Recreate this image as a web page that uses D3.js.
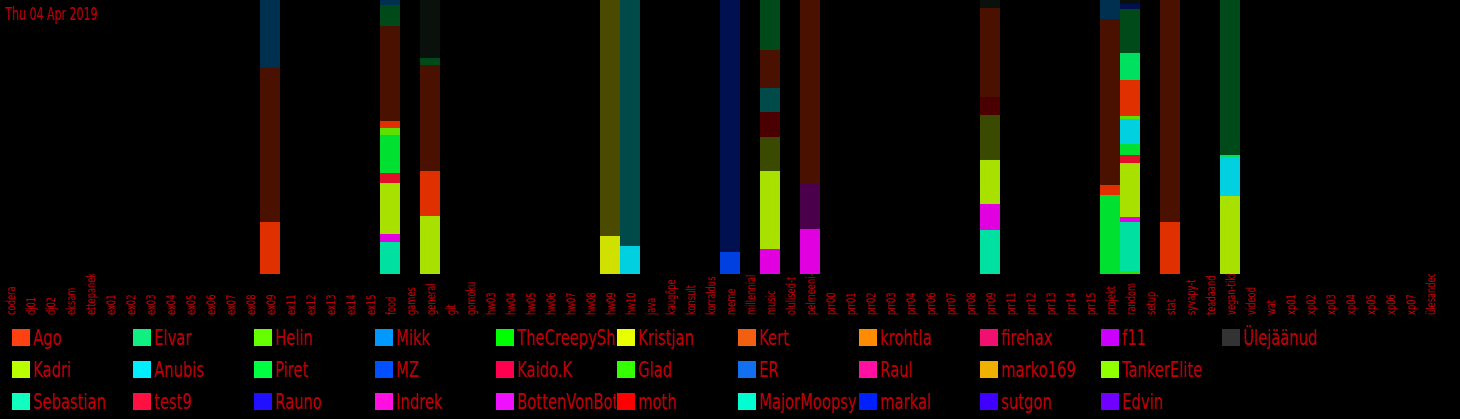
<!DOCTYPE html>
<html><head><meta charset="utf-8">
<script src="https://cdn.jsdelivr.net/npm/d3@7"></script>
<style>
html,body{margin:0;padding:0;background:#000;overflow:hidden;}
svg{display:block;background:#000;}
text{font-family:"Liberation Sans Narrow","DejaVu Sans Condensed","Arial Narrow",sans-serif;}
</style></head><body>
<svg id="chart" width="1460" height="419"></svg>
<script>
// ---------- DATA ----------
const title = "Thu 04 Apr 2019";

const channels = ["codera","dj01","dj02","eksam","ettepanek","ex01","ex02","ex03","ex04","ex05","ex06","ex07","ex08","ex09",
  "ex11","ex12","ex13","ex14","ex15","food","games","general","git","gomoku","hw03","hw04","hw05","hw06","hw07","hw08","hw09","hw10",
  "java","kaugõpe","konsult","korraldus","meme","millennial","music","olulised-t","pelmeeni-","prr00","prr01","prr02","prr03","prr04",
  "prr06","prr07","prr08","prr09","prr11","prr12","prr13","prr14","prr15","projekt","random","setup","stat","syvapy-t","teadaand",
  "vegan-tiki","videod","wat","xp01","xp02","xp03","xp04","xp05","xp06","xp07","ülesandec"];

// channels that have messages (others are zero)
const activeChannels = ["ex09","food","general","hw09","hw10","meme","music","pelmeeni-","prr09","projekt","random","stat","vegan-tiki"];

// stack layers, bottom -> top (bright = today, dim = earlier)
const layerNames = ["Glad","Sebastian","Indrek","Kadri","test9","Piret","Anubis","Kristjan","MZ","Helin","Ago","Elvar",
  "Indrek (varem)","Kadri (varem)","test9 (varem)","Anubis (varem)","Kristjan (varem)","Ago (varem)","Elvar (varem)",
  "Mikk (varem)","MZ (varem)","Ülejäänud (varem)"];
const layerColors = ["#30e000","#00e0a0","#e000e0","#a8e000","#e0102a","#00e030","#00d0e0","#d0e000","#0040e0","#5ce000","#e03000","#00e060",
  "#4a004a","#3a4a00","#4a0000","#004a4a","#4a4a00","#4a1000","#004a1a",
  "#003050","#001050","#0a100c"];

// values per layer, aligned with activeChannels
const vGlad        = [0,0,0,0,0,0,0,0,0,0,3,0,0];
const vSebastian   = [0,32,0,0,0,0,0,0,44,0,49,0,0];
const vIndrek      = [0,8,0,0,0,0,25,45,26,0,5,0,0];
const vKadri       = [0,51,58,0,0,0,78,0,44,0,54,0,78];
const vTest9       = [0,10,0,0,0,0,0,0,0,0,8,0,0];
const vPiret       = [0,38,0,0,0,0,0,0,0,79,11,0,0];
const vAnubis      = [0,0,0,0,28,0,0,0,0,0,25,0,39];
const vKristjan    = [0,0,0,38,0,0,0,0,0,0,0,0,0];
const vMZ          = [0,0,0,0,0,22,0,0,0,0,0,0,0];
const vHelin       = [0,7,0,0,0,0,0,0,0,0,3,0,0];
const vAgo         = [52,7,45,0,0,0,0,0,0,10,36,52,0];
const vElvar       = [0,0,0,0,0,0,0,0,0,0,27,0,2];
const vIndrekOld   = [0,0,0,0,0,0,0,46,0,0,0,0,0];
const vKadriOld    = [0,0,0,0,0,0,34,0,45,0,0,0,0];
const vTest9Old    = [0,0,0,0,0,0,25,0,18,0,0,0,0];
const vAnubisOld   = [0,0,0,0,246,0,24,0,0,0,0,0,0];
const vKristjanOld = [0,0,0,236,0,0,0,0,0,0,0,0,0];
const vAgoOld      = [154,95,106,0,0,0,38,183,89,166,0,222,0];
const vElvarOld    = [0,21,7,0,0,0,50,0,0,0,44,0,155];
const vMikkOld     = [68,5,0,0,0,0,0,0,0,19,0,0,0];
const vMZOld       = [0,0,0,0,0,252,0,0,0,0,5,0,0];
const vRestOld     = [0,0,58,0,0,0,0,0,8,0,4,0,0];
const layerValues = [vGlad,vSebastian,vIndrek,vKadri,vTest9,vPiret,vAnubis,vKristjan,vMZ,vHelin,vAgo,vElvar,
  vIndrekOld,vKadriOld,vTest9Old,vAnubisOld,vKristjanOld,vAgoOld,vElvarOld,vMikkOld,vMZOld,vRestOld];

// legend (column-major, 3 rows)
const legendNames = ["Ago","Kadri","Sebastian","Elvar","Anubis","test9","Helin","Piret","Rauno","Mikk","MZ","Indrek",
  "TheCreepySh","Kaido.K","BottenVonBot","Kristjan","Glad","moth","Kert","ER","MajorMoopsy","krohtla","Raul","markal",
  "firehax","marko169","sutgon","f11","TankerElite","Edvin","Ülejäänud"];
const legendColors = ["#ff4010","#b8ff00","#10ffc0","#10f080","#00eeff","#ff1040","#66ff00","#00ff40","#2010ff","#0099ff","#0050ff","#ff10e0",
  "#00ff00","#ff0050","#ee10ff","#e8ff00","#33ff00","#ff0000","#f06010","#1070f0","#00ffd0","#ff8c00","#ff10a0","#0020ff",
  "#f01070","#f0b000","#4000ff","#cc00ff","#90ff00","#7000ff","#333333"];

// ---------- CHART ----------
const svg = d3.select("#chart");
const textColor = "#c00008";
const plotBottom = 274;

const table = channels.map(c => {
  const row = {channel: c};
  const idx = activeChannels.indexOf(c);
  layerNames.forEach((k, li) => { row[k] = idx >= 0 ? layerValues[li][idx] : 0; });
  return row;
});

const stack = d3.stack().keys(layerNames).offset(d3.stackOffsetExpand);
const series = stack(table);

const x = d3.scaleBand().domain(channels).range([0, 1440]).padding(0);
const y = d3.scaleLinear().domain([0, 1]).range([plotBottom, 0]);
const color = d3.scaleOrdinal().domain(layerNames).range(layerColors);

svg.append("g").selectAll("g").data(series).join("g")
  .attr("fill", d => color(d.key))
  .selectAll("rect")
  .data(d => d.filter(p => p[1] - p[0] > 0))
  .join("rect")
  .attr("x", d => x(d.data.channel))
  .attr("width", x.bandwidth())
  .attr("y", d => y(d[1]))
  .attr("height", d => y(d[0]) - y(d[1]));

// x axis labels (clipped at bar baseline)
svg.append("clipPath").attr("id", "axisClip")
  .append("rect").attr("x", 0).attr("y", plotBottom).attr("width", 1460).attr("height", 60);
const axisG = svg.append("g").attr("clip-path", "url(#axisClip)")
  .append("g").attr("transform", "translate(0,315)")
  .call(d3.axisBottom(x).tickSize(0).tickPadding(0));
axisG.select(".domain").remove();
axisG.selectAll("text")
  .attr("transform", "rotate(-90) scale(0.71,1)")
  .attr("x", 0).attr("y", 0).attr("dy", "0.38em")
  .attr("text-anchor", "start")
  .attr("fill", textColor)
  .style("font-size", "13px");

// title
svg.append("text")
  .attr("transform", "translate(5,20) scale(0.72,1)")
  .attr("fill", textColor)
  .style("font-size", "17px")
  .text(title);

// legend
const colW = 121, rowH = 32, legX = 12, legY = 329;
const legend = svg.append("g");
const cols = Math.ceil(legendNames.length / 3);
for (let c = 0; c < cols; c++) {
  legend.append("clipPath").attr("id", "legClip" + c)
    .append("rect").attr("x", legX + c * colW).attr("y", 320).attr("width", colW - 1).attr("height", 99);
}
const items = legend.selectAll("g.item").data(legendNames).join("g")
  .attr("class", "item")
  .attr("clip-path", (d, i) => `url(#legClip${Math.floor(i / 3)})`);
items.append("rect")
  .attr("x", (d, i) => legX + Math.floor(i / 3) * colW)
  .attr("y", (d, i) => legY + (i % 3) * rowH)
  .attr("width", 18).attr("height", 17)
  .attr("fill", (d, i) => legendColors[i]);
items.append("text")
  .attr("transform", (d, i) => `translate(${legX + Math.floor(i / 3) * colW + 21},${legY + 16 + (i % 3) * rowH}) scale(0.78,1)`)
  .attr("fill", textColor)
  .style("font-size", "21px")
  .text(d => d);
</script>
</body></html>
